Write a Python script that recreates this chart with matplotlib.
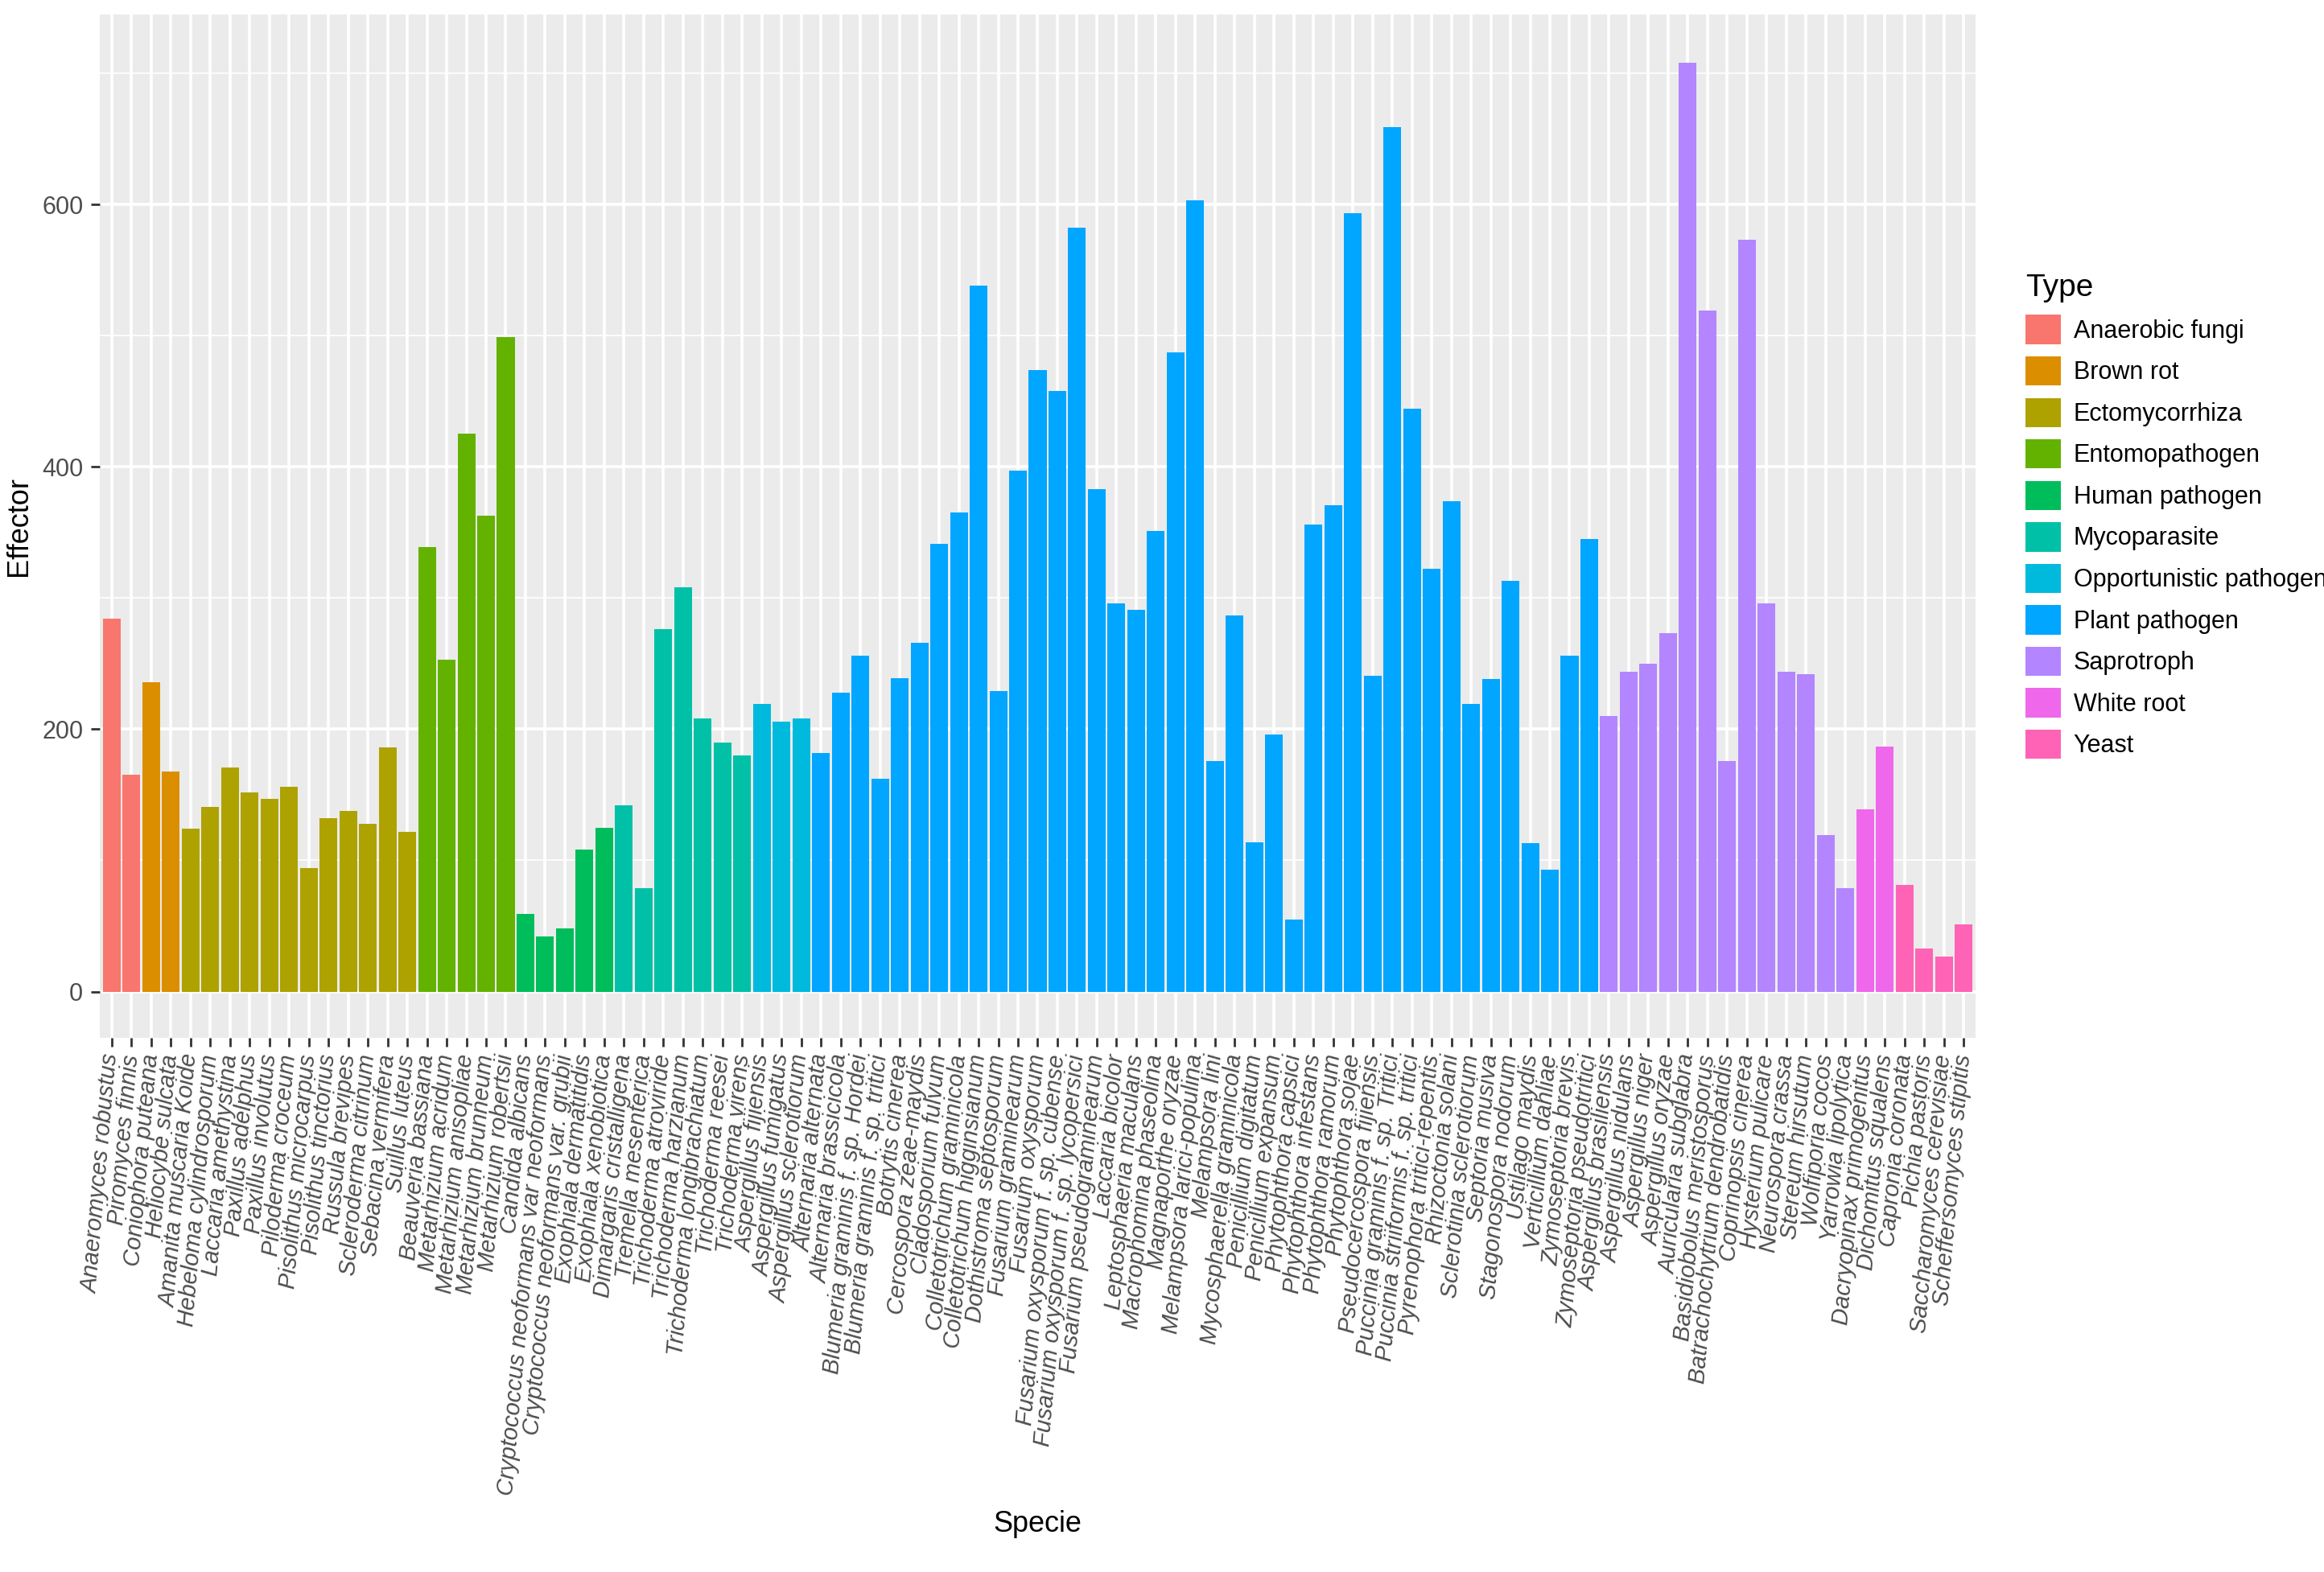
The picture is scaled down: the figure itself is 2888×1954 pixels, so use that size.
import matplotlib.pyplot as plt
import matplotlib.patches as patches

plt.rcParams['font.family'] = ['Liberation Sans', 'DejaVu Sans']

species = [
    'Anaeromyces robustus', 'Piromyces finnis',
    'Coniophora puteana', 'Heliocybe sulcata',
    'Amanita muscaria Koide', 'Hebeloma cylindrosporum', 'Laccaria amethystina',
    'Paxillus adelphus', 'Paxillus involutus', 'Piloderma croceum',
    'Pisolithus microcarpus', 'Pisolithus tinctorius', 'Russula brevipes',
    'Scleroderma citrinum', 'Sebacina vermifera', 'Suillus luteus',
    'Beauveria bassiana', 'Metarhizium acridum', 'Metarhizium anisopliae',
    'Metarhizium brunneum', 'Metarhizium robertsii',
    'Candida albicans', 'Cryptococcus neoformans var neoformans',
    'Cryptococcus neoformans var. grubii', 'Exophiala dermatitidis', 'Exophiala xenobiotica',
    'Dimargaris cristalligena', 'Tremella mesenterica', 'Trichoderma atroviride',
    'Trichoderma harzianum', 'Trichoderma longibrachiatum', 'Trichoderma reesei',
    'Trichoderma virens',
    'Aspergillus fijiensis', 'Aspergillus fumigatus', 'Aspergillus sclerotiorum',
    'Alternaria alternata', 'Alternaria brassicicola', 'Blumeria graminis f. sp. Hordei',
    'Blumeria graminis f. sp. tritici', 'Botrytis cinerea', 'Cercospora zeae-maydis',
    'Cladosporium fulvum', 'Colletotrichum graminicola', 'Colletotrichum higginsianum',
    'Dothistroma septosporum', 'Fusarium graminearum', 'Fusarium oxysporum',
    'Fusarium oxysporum f. sp. cubense', 'Fusarium oxysporum f. sp. lycopersici',
    'Fusarium pseudograminearum', 'Laccaria bicolor', 'Leptosphaeria maculans',
    'Macrophomina phaseolina', 'Magnaporthe oryzae', 'Melampsora larici-populina',
    'Melampsora lini', 'Mycosphaerella graminicola', 'Penicillium digitatum',
    'Penicillium expansum', 'Phytophthora capsici', 'Phytophthora infestans',
    'Phytophthora ramorum', 'Phytophthora sojae', 'Pseudocercospora fijiensis',
    'Puccinia graminis f. sp. Tritici', 'Puccinia striiformis f. sp. tritici',
    'Pyrenophora tritici-repentis', 'Rhizoctonia solani', 'Sclerotinia sclerotiorum',
    'Septoria musiva', 'Stagonospora nodorum', 'Ustilago maydis', 'Verticillium dahliae',
    'Zymoseptoria brevis', 'Zymoseptoria pseudotritici',
    'Aspergillus brasiliensis', 'Aspergillus nidulans', 'Aspergillus niger',
    'Aspergillus oryzae', 'Auricularia subglabra', 'Basidiobolus meristosporus',
    'Batrachochytrium dendrobatidis', 'Coprinopsis cinerea', 'Hysterium pulicare',
    'Neurospora crassa', 'Stereum hirsutum', 'Wolfiporia cocos', 'Yarrowia lipolytica',
    'Dacryopinax primogenitus', 'Dichomitus squalens',
    'Capronia coronata', 'Pichia pastoris', 'Saccharomyces cerevisiae',
    'Scheffersomyces stipitis',
]

effector = [
    284, 165,
    236, 168,
    124, 141, 171, 152, 147, 156, 94, 132, 138, 128, 186, 122,
    339, 253, 425, 363, 499,
    59, 42, 48, 108, 125,
    142, 79, 276, 308, 208, 190, 180,
    219, 206, 208,
    182, 228, 256, 162, 239, 266, 341, 365, 538, 229, 397, 474, 458, 582, 383,
    296, 291, 351, 487, 603, 176, 287, 114, 196, 55, 356, 371, 593, 241, 659,
    444, 322, 374, 219, 238, 313, 113, 93, 256, 345,
    210, 244, 250, 273, 708, 519, 176, 573, 296, 244, 242, 119, 79,
    139, 187,
    81, 33, 27, 51,
]

types = ['Anaerobic fungi', 'Brown rot', 'Ectomycorrhiza', 'Entomopathogen',
         'Human pathogen', 'Mycoparasite', 'Opportunistic pathogen', 'Plant pathogen',
         'Saprotroph', 'White root', 'Yeast']
type_counts = [2, 2, 12, 5, 5, 7, 3, 40, 13, 2, 4]
type_colors = ['#F8766D', '#DB8E00', '#AEA200', '#64B200', '#00BD5C', '#00C1A7',
               '#00BADE', '#00A6FF', '#B385FF', '#EF67EB', '#FF63B6']

bar_colors = []
for c, n in zip(type_colors, type_counts):
    bar_colors += [c] * n

fig = plt.figure(figsize=(14.44, 9.77), dpi=200)
ax = fig.add_axes([0.043, 0.34, 0.807, 0.651])
ax.set_facecolor('#EBEBEB')

x = list(range(len(species)))
ax.bar(x, effector, width=0.9, color=bar_colors, zorder=3)

ax.set_xlim(-0.6, len(species) - 0.4)
ax.set_ylim(-35, 745)
ax.set_yticks([0, 200, 400, 600])
ax.set_yticks([100, 300, 500, 700], minor=True)
ax.grid(which='major', color='white', linewidth=1.3, zorder=0)
ax.grid(which='minor', axis='y', color='white', linewidth=0.6, zorder=0)
for s in ax.spines.values():
    s.set_visible(False)

ax.set_xticks(x)
ax.set_xticklabels(species, rotation=85, ha='right', va='center',
                   rotation_mode='anchor', fontsize=10.5, style='italic', color='#4D4D4D')
ax.tick_params(axis='both', which='major', length=4, color='#333333', width=1)
ax.tick_params(axis='y', which='minor', length=0)
ax.tick_params(axis='y', labelsize=11, labelcolor='#4D4D4D')

ax.set_xlabel('Specie', fontsize=13, labelpad=6)
ax.set_ylabel('Effector', fontsize=13)

handles = [patches.Patch(facecolor=c, edgecolor='none') for c in type_colors]
leg = fig.legend(handles, types, loc='upper left', bbox_to_anchor=(0.862, 0.84),
                 title='Type', frameon=False, fontsize=11, title_fontsize=14,
                 handlelength=1.45, handleheight=1.45, labelspacing=0.5,
                 handletextpad=0.5)
leg._legend_box.align = 'left'

fig.savefig('out.png', dpi=200)
